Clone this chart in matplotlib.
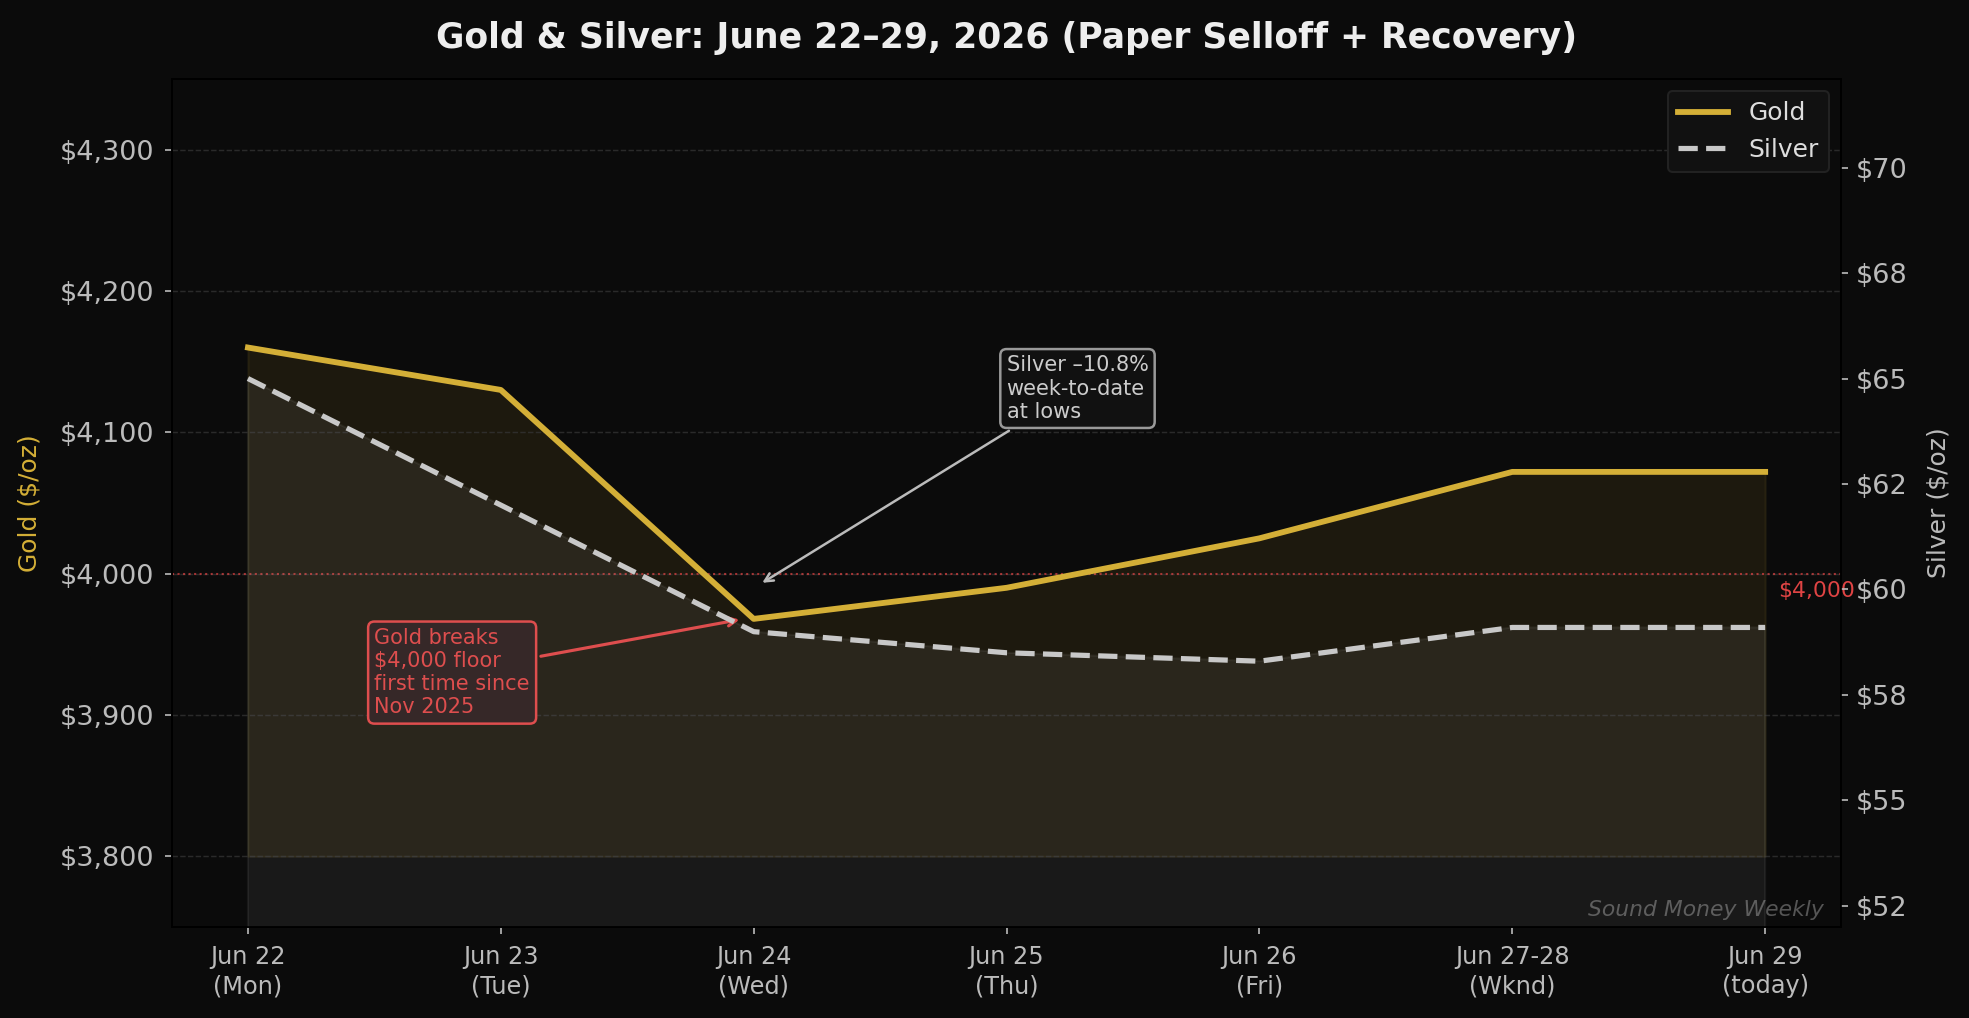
import numpy as np
import matplotlib.pyplot as plt
from matplotlib.ticker import FuncFormatter, MultipleLocator

# data
days = ["Jun 22\n(Mon)", "Jun 23\n(Tue)", "Jun 24\n(Wed)", "Jun 25\n(Thu)",
        "Jun 26\n(Fri)", "Jun 27-28\n(Wknd)", "Jun 29\n(today)"]
gold = [4160, 4130, 3968, 3990, 4025, 4072, 4072]
silver = [65.0, 62.0, 59.0, 58.5, 58.3, 59.1, 59.1]

GOLD = "#d4af37"
SILVER = "#c8c8c8"
RED = "#e04444"
BG = "#0b0b0b"
TXT = "#bbbbbb"

x = np.arange(len(days))

fig = plt.figure(figsize=(1969 / 150, 1018 / 150), dpi=150, facecolor=BG)
ax = fig.add_axes([0.0874, 0.0894, 0.935 - 0.0874, 0.9224 - 0.0894])
ax.set_facecolor(BG)
ax2 = ax.twinx()

# gold
ax.fill_between(x, gold, 3800, color=GOLD, alpha=0.09)
l1, = ax.plot(x, gold, color=GOLD, lw=2.8, label="Gold", zorder=5)
ax.axhline(4000, color=RED, lw=1, ls=":", alpha=0.7)
ax.text(6.05, 3988, "$4,000", color=RED, fontsize=10.5, va="center", ha="left")

# silver
ax2.fill_between(x, silver, 40, color=SILVER, alpha=0.08)
l2, = ax2.plot(x, silver, color=SILVER, lw=2.5, ls="--", label="Silver")

ax.set_xlim(-0.3, 6.3)
ax.set_ylim(3750, 4350)
ax2.set_ylim(52.0, 72.1)

ax.set_xticks(x)
ax.set_xticklabels(days, linespacing=1.3)
ax.yaxis.set_major_locator(MultipleLocator(100))
ax.yaxis.set_major_formatter(FuncFormatter(lambda v, p: f"${v:,.0f}"))
ax2.yaxis.set_major_locator(MultipleLocator(2.5))
ax2.yaxis.set_major_formatter(FuncFormatter(lambda v, p: f"${v:,.0f}"))

ax.tick_params(axis="x", colors=TXT, labelsize=11.5, pad=5)
ax.tick_params(axis="y", colors=TXT, labelsize=13, pad=5)
ax2.tick_params(axis="y", colors=TXT, labelsize=13)

ax.set_ylabel("Gold ($/oz)", color=GOLD, fontsize=12, labelpad=9)
ax2.set_ylabel("Silver ($/oz)", color=TXT, fontsize=12, labelpad=9)

ax.grid(axis="y", color="#333333", ls="--", lw=0.7, alpha=0.8)
for a in (ax, ax2):
    for s in a.spines.values():
        s.set_color("#000000")

ax.set_title("Gold & Silver: June 22\u201329, 2026 (Paper Selloff + Recovery)",
             color="#eeeeee", fontsize=16.6, fontweight="bold", pad=15)

ax.annotate("Gold breaks\n$4,000 floor\nfirst time since\nNov 2025",
            xy=(1.96, 3968), xytext=(0.5, 3930), color=RED, fontsize=10,
            ha="left", va="center",
            bbox=dict(boxstyle="round,pad=0.3", fc="#2a1b1b", ec=RED, lw=1.2),
            arrowprops=dict(arrowstyle="->", color=RED, lw=1.5), zorder=10)
ax.annotate("Silver \u201310.8%\nweek-to-date\nat lows",
            xy=(2.02, 3992), xytext=(3.0, 4131), color="#cccccc", fontsize=10,
            ha="left", va="center",
            bbox=dict(boxstyle="round,pad=0.3", fc="#111111", ec="#999999", lw=1.2),
            arrowprops=dict(arrowstyle="->", color="#bbbbbb", lw=1.2), zorder=10)

ax.text(0.99, 0.008, "Sound Money Weekly", transform=ax.transAxes,
        ha="right", va="bottom", color="#555555", fontsize=10.5, style="italic")

leg = ax2.legend([l1, l2], ["Gold", "Silver"], loc="upper right", fontsize=12,
                 facecolor="#111111", edgecolor="#222222", framealpha=1)
for t in leg.get_texts():
    t.set_color("#dddddd")

fig.savefig("out.png", dpi=150, facecolor=BG)
